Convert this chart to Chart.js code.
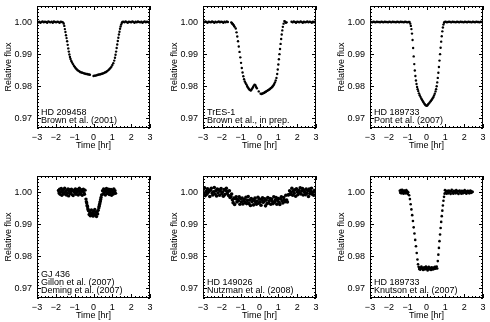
<!DOCTYPE html>
<html>
<head>
<meta charset="utf-8">
<script src="https://cdn.jsdelivr.net/npm/chart.js@4/dist/chart.umd.min.js"></script>
<style>
  body { margin: 0; background: #fff; width: 490px; height: 322px; position: relative; overflow: hidden; }
  canvas { position: absolute; }
</style>
</head>
<body>
<canvas id="p1" width="163" height="152" style="left:0;top:0"></canvas>
<canvas id="p2" width="163" height="152" style="left:166px;top:0"></canvas>
<canvas id="p3" width="163" height="152" style="left:333px;top:0"></canvas>
<canvas id="p4" width="163" height="152" style="left:0;top:170px"></canvas>
<canvas id="p5" width="163" height="152" style="left:166px;top:170px"></canvas>
<canvas id="p6" width="163" height="152" style="left:333px;top:170px"></canvas>
<script>
// light curves, [time (hr), relative flux]
const hd209458 = [
  [-3.00,1.0002],[-2.94,0.9999],[-2.88,1.0001],[-2.82,0.9998],[-2.76,1.0000],[-2.70,1.0002],[-2.64,0.9999],[-2.58,1.0001],
  [-2.52,1.0000],[-2.46,0.9998],[-2.40,1.0002],[-2.34,1.0000],[-2.28,0.9999],[-2.22,1.0001],[-2.16,0.9998],[-2.10,1.0002],
  [-2.04,1.0000],[-1.98,0.9999],[-1.92,1.0001],[-1.86,1.0000],[-1.80,0.9998],[-1.74,1.0001],[-1.68,1.0000],[-1.62,0.9999],
  [-1.58,0.9995],[-1.55,0.9988],[-1.52,0.9978],[-1.49,0.9969],[-1.46,0.9959],[-1.43,0.9950],[-1.40,0.9940],[-1.37,0.9929],
  [-1.34,0.9918],[-1.31,0.9908],[-1.28,0.9899],[-1.25,0.9891],[-1.22,0.9885],[-1.18,0.9879],[-1.14,0.9874],
  [-1.09,0.9869],[-1.04,0.9864],[-0.99,0.9860],[-0.94,0.9856],[-0.89,0.9853],[-0.84,0.9850],[-0.79,0.9848],[-0.74,0.9846],
  [-0.69,0.9844],[-0.64,0.9843],[-0.59,0.9842],[-0.54,0.9841],[-0.49,0.9840],[-0.44,0.9839],[-0.39,0.9838],[-0.34,0.9838],
  [-0.29,0.9837],[-0.24,0.9837],[-0.19,0.9836],
  [0.00,0.9832],[0.05,0.9833],[0.10,0.9833],[0.15,0.9834],[0.20,0.9835],[0.25,0.9836],[0.30,0.9837],[0.35,0.9837],
  [0.40,0.9838],[0.45,0.9839],[0.50,0.9840],[0.55,0.9841],[0.60,0.9843],[0.65,0.9844],[0.70,0.9846],[0.75,0.9848],
  [0.80,0.9851],[0.85,0.9854],[0.90,0.9857],[0.95,0.9861],[1.00,0.9866],[1.05,0.9872],[1.10,0.9880],
  [1.14,0.9889],[1.17,0.9898],[1.20,0.9908],[1.23,0.9919],[1.26,0.9930],[1.29,0.9941],[1.32,0.9951],[1.35,0.9961],
  [1.38,0.9970],[1.41,0.9979],[1.44,0.9986],[1.47,0.9992],[1.50,0.9997],[1.53,1.0000],
  [1.58,1.0001],[1.64,0.9999],[1.70,1.0002],[1.76,1.0000],[1.82,0.9998],[1.88,1.0001],[1.94,1.0000],[2.00,0.9999],
  [2.06,1.0002],[2.12,1.0000],[2.18,0.9998],[2.24,1.0001],[2.30,0.9999],[2.36,1.0002],[2.42,1.0000],[2.48,0.9999],
  [2.54,1.0001],[2.60,0.9998],[2.66,1.0000],[2.72,1.0002],[2.78,0.9999],[2.84,1.0001],[2.90,1.0000],[2.96,0.9998],[3.00,1.0001]
];
const tres1 = [
  [-3.00,1.0001],[-2.94,0.9999],[-2.88,1.0002],[-2.82,1.0000],[-2.76,0.9998],[-2.70,1.0001],[-2.64,1.0000],[-2.58,0.9999],
  [-2.52,1.0002],[-2.46,1.0000],[-2.40,0.9998],[-2.34,1.0001],[-2.28,0.9999],[-2.22,1.0000],[-2.16,1.0002],[-2.10,0.9999],
  [-2.04,1.0001],[-1.98,1.0000],[-1.92,0.9998],[-1.86,1.0001],[-1.80,0.9999],[-1.74,1.0002],[-1.68,1.0000],
  [-1.50,0.9999],[-1.47,0.9997],[-1.44,0.9995],[-1.41,0.9993],[-1.38,0.9991],[-1.35,0.9988],[-1.32,0.9985],
  [-1.26,0.9980],[-1.22,0.9968],[-1.18,0.9955],[-1.14,0.9940],[-1.10,0.9924],[-1.06,0.9907],[-1.02,0.9890],[-0.98,0.9873],
  [-0.94,0.9857],[-0.90,0.9843],[-0.86,0.9831],[-0.82,0.9822],
  [-0.78,0.9815],[-0.74,0.9810],[-0.70,0.9806],[-0.66,0.9801],[-0.62,0.9797],[-0.58,0.9793],[-0.54,0.9790],[-0.50,0.9788],
  [-0.46,0.9787],[-0.42,0.9790],[-0.38,0.9794],[-0.34,0.9798],[-0.30,0.9802],[-0.26,0.9805],[-0.22,0.9803],[-0.18,0.9798],
  [-0.14,0.9794],[-0.04,0.9784],
  [0.06,0.9777],[0.10,0.9776],[0.14,0.9777],[0.18,0.9778],[0.22,0.9779],[0.26,0.9780],[0.30,0.9782],[0.34,0.9783],
  [0.38,0.9785],[0.42,0.9786],[0.46,0.9788],[0.50,0.9789],[0.54,0.9791],[0.58,0.9793],[0.62,0.9795],[0.66,0.9797],
  [0.70,0.9800],[0.74,0.9803],[0.78,0.9807],[0.82,0.9812],[0.86,0.9818],[0.90,0.9826],
  [0.94,0.9838],[0.97,0.9852],[1.00,0.9868],[1.03,0.9884],[1.06,0.9900],[1.09,0.9916],[1.12,0.9932],[1.15,0.9947],
  [1.18,0.9961],[1.21,0.9974],[1.24,0.9985],[1.28,0.9995],[1.32,1.0003],[1.36,1.0001],[1.40,0.9998],[1.44,0.9999],
  [1.70,1.0001],[1.76,0.9999],[1.82,1.0002],[1.88,1.0000],[1.94,0.9998],[2.00,1.0001],[2.06,1.0000],[2.12,0.9999],
  [2.18,1.0002],[2.24,1.0000],[2.30,0.9998],[2.36,1.0001],[2.42,0.9999],[2.48,1.0000],[2.54,1.0002],[2.60,0.9999],
  [2.66,1.0001],[2.72,1.0000],[2.78,0.9998],[2.84,1.0001],[2.90,0.9999],[2.96,1.0002],[3.00,1.0000]
];
const hd189733Pont = [
  [-3.00,1.0001],[-2.94,1.0000],[-2.88,0.9999],[-2.82,1.0001],[-2.76,1.0000],[-2.70,0.9999],[-2.64,1.0001],[-2.58,1.0000],
  [-2.52,1.0000],[-2.46,0.9999],[-2.40,1.0001],[-2.34,1.0000],[-2.28,0.9999],[-2.22,1.0001],[-2.16,1.0000],[-2.10,1.0000],
  [-2.04,0.9999],[-1.98,1.0001],[-1.92,1.0000],[-1.86,0.9999],[-1.80,1.0001],[-1.74,1.0000],[-1.68,1.0000],[-1.62,0.9999],
  [-1.56,1.0001],[-1.50,1.0000],[-1.44,0.9999],[-1.38,1.0001],[-1.32,1.0000],[-1.26,1.0000],[-1.20,0.9999],[-1.14,1.0001],
  [-1.08,1.0000],[-1.02,0.9999],[-0.96,1.0000],[-0.90,1.0000],
  [-0.86,0.9995],[-0.83,0.9988],[-0.80,0.9978],[-0.77,0.9964],[-0.74,0.9944],[-0.71,0.9919],[-0.68,0.9893],[-0.65,0.9869],
  [-0.62,0.9849],[-0.59,0.9832],[-0.56,0.9818],[-0.53,0.9807],[-0.50,0.9798],[-0.47,0.9791],[-0.44,0.9785],[-0.40,0.9778],
  [-0.36,0.9772],[-0.32,0.9767],[-0.28,0.9762],[-0.24,0.9758],[-0.20,0.9754],[-0.16,0.9750],[-0.12,0.9746],[-0.08,0.9743],
  [-0.04,0.9741],[0.00,0.9739],[0.04,0.9740],[0.08,0.9743],[0.12,0.9746],[0.16,0.9749],[0.20,0.9752],[0.24,0.9755],
  [0.28,0.9758],[0.32,0.9762],[0.36,0.9766],[0.40,0.9771],[0.44,0.9777],[0.48,0.9784],[0.51,0.9791],[0.54,0.9800],
  [0.57,0.9812],[0.60,0.9826],[0.63,0.9842],[0.66,0.9860],[0.69,0.9880],[0.72,0.9900],[0.75,0.9920],[0.78,0.9939],
  [0.81,0.9956],[0.84,0.9971],[0.87,0.9983],[0.90,0.9992],[0.93,0.9998],
  [0.96,1.0000],[1.02,1.0001],[1.08,0.9999],[1.14,1.0000],[1.20,1.0001],[1.26,1.0000],[1.32,0.9999],[1.38,1.0001],
  [1.44,1.0000],[1.50,1.0000],[1.56,0.9999],[1.62,1.0001],[1.68,1.0000],[1.74,0.9999],[1.80,1.0001],[1.86,1.0000],
  [1.92,1.0000],[1.98,0.9999],[2.04,1.0001],[2.10,1.0000],[2.16,0.9999],[2.22,1.0001],[2.28,1.0000],[2.34,1.0000],
  [2.40,0.9999],[2.46,1.0001],[2.52,1.0000],[2.58,0.9999],[2.64,1.0001],[2.70,1.0000],[2.76,1.0000],[2.82,0.9999],
  [2.88,1.0001],[2.94,1.0000],[3.00,1.0000]
];
const gj436 = [
  [-1.86,1.0005],[-1.83,0.9997],[-1.80,1.0009],[-1.77,0.9993],[-1.74,1.0001],[-1.71,1.0011],[-1.68,0.9990],[-1.65,1.0004],
  [-1.62,0.9998],[-1.59,1.0008],[-1.56,0.9994],[-1.53,1.0012],[-1.50,0.9999],[-1.47,1.0003],[-1.44,0.9991],[-1.41,1.0006],
  [-1.38,0.9996],[-1.35,1.0010],[-1.32,0.9988],[-1.29,1.0002],[-1.26,1.0007],[-1.23,0.9995],[-1.20,1.0000],[-1.17,1.0009],
  [-1.14,0.9992],[-1.11,1.0004],[-1.08,0.9989],[-1.05,1.0006],[-1.02,1.0001],[-0.99,0.9997],[-0.96,1.0010],[-0.93,0.9993],
  [-0.90,1.0005],[-0.87,0.9999],[-0.84,1.0008],[-0.81,0.9991],[-0.78,1.0003],[-0.75,1.0012],[-0.72,0.9996],[-0.69,0.9994],
  [-0.66,1.0007],[-0.63,1.0002],[-0.60,0.9990],[-0.57,1.0005],[-0.54,1.0009],[-0.51,0.9998],[-0.48,0.9993],[-0.45,1.0006],
  [-0.40,0.9978],[-0.38,0.9970],[-0.36,0.9966],[-0.34,0.9958],[-0.32,0.9955],[-0.30,0.9948],[-0.28,0.9944],
  [-0.26,0.9942],[-0.23,0.9930],[-0.20,0.9938],[-0.17,0.9926],[-0.14,0.9934],[-0.11,0.9944],[-0.08,0.9928],[-0.05,0.9936],
  [-0.02,0.9925],[0.01,0.9940],[0.04,0.9931],[0.07,0.9946],[0.10,0.9929],[0.13,0.9937],[0.16,0.9924],[0.19,0.9939],
  [0.22,0.9932],[0.25,0.9943],
  [0.28,0.9950],[0.30,0.9956],[0.32,0.9961],[0.34,0.9966],[0.36,0.9971],[0.38,0.9977],[0.40,0.9983],[0.43,0.9991],
  [0.48,1.0004],[0.51,0.9994],[0.54,1.0010],[0.57,0.9998],[0.60,1.0006],[0.63,0.9991],[0.66,1.0002],[0.69,1.0011],
  [0.72,0.9995],[0.75,1.0007],[0.78,0.9999],[0.81,1.0009],[0.84,0.9992],[0.87,1.0003],[0.90,0.9997],[0.93,1.0008],
  [0.96,0.9990],[0.99,1.0005],[1.02,1.0001],[1.05,0.9994],[1.08,1.0010],[1.11,0.9998],[1.14,1.0004],[1.17,0.9996]
];
const hd149026 = [
  [-3.00,1.0008],[-2.96,0.9996],[-2.92,1.0013],[-2.88,0.9989],[-2.84,1.0002],[-2.80,0.9993],[-2.76,1.0010],[-2.72,0.9999],
  [-2.68,1.0005],[-2.64,0.9986],[-2.60,1.0006],[-2.56,1.0012],[-2.52,0.9997],[-2.48,0.9991],[-2.44,1.0001],[-2.40,1.0014],
  [-2.36,0.9994],[-2.32,1.0004],[-2.28,0.9988],[-2.24,1.0009],[-2.20,0.9998],[-2.16,1.0007],[-2.12,0.9990],[-2.08,1.0003],
  [-2.04,1.0011],[-2.00,0.9995],[-1.96,1.0000],[-1.92,0.9987],[-1.88,1.0008],[-1.84,0.9992],[-1.80,1.0005],[-1.76,1.0012],
  [-1.72,0.9996],[-1.68,1.0002],[-1.64,0.9989],[-1.60,1.0004],[-1.56,0.9983],[-1.52,0.9986],[-1.48,0.9994],[-1.44,0.9976],
  [-1.40,0.9967],[-1.36,0.9981],[-1.32,0.9961],[-1.28,0.9979],[-1.24,0.9985],[-1.20,0.9969],[-1.16,0.9977],[-1.12,0.9973],
  [-1.08,0.9985],[-1.04,0.9962],[-1.00,0.9980],[-0.96,0.9970],[-0.92,0.9981],[-0.88,0.9963],[-0.84,0.9972],[-0.80,0.9977],
  [-0.76,0.9967],[-0.72,0.9984],[-0.68,0.9964],[-0.64,0.9974],[-0.60,0.9986],[-0.56,0.9964],[-0.52,0.9975],[-0.48,0.9958],
  [-0.44,0.9980],[-0.40,0.9970],[-0.36,0.9977],[-0.32,0.9960],[-0.28,0.9974],[-0.24,0.9981],[-0.20,0.9967],[-0.16,0.9962],
  [-0.12,0.9972],[-0.08,0.9984],[-0.04,0.9965],[0.00,0.9978],[0.04,0.9969],[0.08,0.9959],[0.12,0.9976],[0.16,0.9982],
  [0.20,0.9968],[0.24,0.9971],[0.28,0.9979],[0.32,0.9957],[0.36,0.9975],[0.40,0.9964],[0.44,0.9983],[0.48,0.9966],
  [0.52,0.9973],[0.56,0.9980],[0.60,0.9962],[0.64,0.9978],[0.68,0.9971],[0.72,0.9964],[0.76,0.9985],[0.80,0.9968],
  [0.84,0.9975],[0.88,0.9983],[0.92,0.9962],[0.96,0.9974],[1.00,0.9980],[1.04,0.9968],[1.08,0.9961],[1.12,0.9979],
  [1.16,0.9985],[1.20,0.9973],[1.24,0.9966],[1.28,0.9983],[1.32,0.9975],[1.36,0.9970],[1.40,0.9990],[1.44,0.9975],
  [1.48,0.9969],[1.52,0.9991],[1.56,0.9992],[1.60,1.0004],[1.64,0.9993],[1.68,0.9999],[1.72,1.0012],[1.76,0.9990],
  [1.80,1.0004],[1.84,0.9996],[1.88,1.0007],[1.92,0.9987],[1.96,1.0010],[2.00,1.0001],[2.04,0.9992],[2.08,1.0005],
  [2.12,0.9998],[2.16,1.0013],[2.20,0.9994],[2.24,1.0003],[2.28,1.0011],[2.32,0.9991],[2.36,1.0006],[2.40,0.9999],
  [2.44,0.9992],[2.48,1.0009],[2.52,0.9996],[2.56,1.0004],[2.60,0.9986],[2.64,1.0009],[2.68,0.9995],[2.72,1.0002],
  [2.76,1.0012],[2.80,0.9993],[2.84,1.0000],[2.88,0.9990],[2.92,1.0005],[2.96,1.0003],[3.00,0.9997]
];
const hd189733Knutson = [
  [-1.42,1.0004],[-1.395,0.9998],[-1.37,1.0006],[-1.345,0.9996],[-1.32,1.0003],[-1.295,1.0007],[-1.27,0.9997],
  [-1.245,1.0002],[-1.22,0.9995],[-1.195,1.0005],[-1.17,0.9999],[-1.145,1.0004],[-1.12,0.9996],[-1.095,1.0001],
  [-1.07,1.0006],[-1.045,0.9997],[-1.02,1.0002],[-0.995,0.9994],[-0.97,0.9999],
  [-0.92,0.9990],[-0.88,0.9978],[-0.84,0.9962],[-0.80,0.9946],[-0.76,0.9928],[-0.72,0.9910],[-0.68,0.9890],
  [-0.64,0.9871],[-0.60,0.9851],[-0.56,0.9831],[-0.52,0.9810],[-0.48,0.9790],[-0.45,0.9775],
  [-0.42,0.9767],[-0.39,0.9760],[-0.36,0.9765],[-0.33,0.9758],[-0.30,0.9763],[-0.27,0.9768],[-0.24,0.9761],[-0.21,0.9764],
  [-0.18,0.9757],[-0.15,0.9762],[-0.12,0.9766],[-0.09,0.9759],[-0.06,0.9763],[-0.03,0.9768],[0.00,0.9760],[0.03,0.9765],
  [0.06,0.9756],[0.09,0.9762],[0.12,0.9767],[0.15,0.9759],[0.18,0.9764],[0.21,0.9761],[0.24,0.9757],[0.27,0.9766],
  [0.30,0.9762],[0.33,0.9759],[0.36,0.9765],[0.39,0.9760],[0.42,0.9763],[0.45,0.9767],[0.48,0.9761],[0.51,0.9764],
  [0.54,0.9768],[0.57,0.9762],
  [0.60,0.9785],[0.63,0.9805],[0.66,0.9826],[0.69,0.9847],[0.72,0.9868],[0.75,0.9888],[0.78,0.9907],[0.81,0.9925],
  [0.84,0.9942],[0.87,0.9958],[0.90,0.9973],[0.93,0.9985],[0.96,0.9995],
  [0.98,1.0006],[1.01,0.9998],[1.04,1.0003],[1.07,0.9995],[1.10,1.0004],[1.13,1.0000],[1.16,0.9996],[1.19,1.0005],
  [1.22,0.9999],[1.25,1.0002],[1.28,0.9994],[1.31,1.0003],[1.34,1.0007],[1.37,0.9997],[1.40,1.0001],[1.43,0.9995],
  [1.46,1.0004],[1.49,0.9999],[1.52,1.0002],[1.55,0.9996],[1.58,1.0006],[1.61,1.0000],[1.64,0.9997],[1.67,1.0003],
  [1.70,0.9994],[1.73,1.0002],[1.76,1.0005],[1.79,0.9998],[1.82,1.0001],[1.85,0.9995],[1.88,1.0004],[1.91,1.0000],
  [1.94,0.9996],[1.97,1.0003],[2.00,0.9999],[2.03,1.0006],[2.06,0.9997],[2.09,1.0002],[2.12,0.9995],[2.15,1.0001],
  [2.18,1.0004],[2.21,0.9998],[2.24,1.0003],[2.27,0.9996],[2.30,1.0000],[2.33,1.0005],[2.36,0.9997],[2.39,1.0002],
  [2.42,0.9999],[2.45,1.0001]
];

const xTicks = [-3, -2, -1, 0, 1, 2, 3];
const yTicks = [0.97, 0.98, 0.99, 1.00];

const panels = [
  { id: 'p1', data: hd209458, r: 1.2, lines: ['HD 209458', 'Brown et al. (2001)'] },
  { id: 'p2', data: tres1, r: 1.2, lines: ['TrES-1', 'Brown et al., in prep.'] },
  { id: 'p3', data: hd189733Pont, r: 1.2, lines: ['HD 189733', 'Pont et al. (2007)'] },
  { id: 'p4', data: gj436, r: 1.7, lines: ['GJ 436', 'Gillon et al. (2007)', 'Deming et al. (2007)'] },
  { id: 'p5', data: hd149026, r: 1.8, lines: ['HD 149026', 'Nutzman et al. (2008)'] },
  { id: 'p6', data: hd189733Knutson, r: 1.3, lines: ['HD 189733', 'Knutson et al. (2007)'] }
];

const FONT = '"Liberation Sans", Arial, Helvetica, sans-serif';
Chart.defaults.font.family = FONT;
Chart.defaults.font.size = 9;
Chart.defaults.color = '#000';

// box + inward major/minor ticks on all four sides, plus the label text
const framePlugin = {
  id: 'frame',
  afterDatasetsDraw(chart, args, opts) {
    const { ctx, chartArea: a, scales: { x, y } } = chart;
    ctx.save();
    ctx.strokeStyle = '#000';
    ctx.lineWidth = 1;
    ctx.strokeRect(a.left + 0.5, a.top + 0.5, a.width - 1, a.height - 1);
    ctx.beginPath();
    for (let i = -15; i <= 15; i++) {
      const px = Math.round(x.getPixelForValue(i / 5)) + 0.5;
      const len = i % 5 === 0 ? 4 : 2;
      ctx.moveTo(px, a.bottom); ctx.lineTo(px, a.bottom - len);
      ctx.moveTo(px, a.top); ctx.lineTo(px, a.top + len);
    }
    for (let i = 967; i <= 1005; i++) {
      const py = Math.round(y.getPixelForValue(i / 1000)) + 0.5;
      const len = i % 10 === 0 ? 4 : 2;
      ctx.moveTo(a.left, py); ctx.lineTo(a.left + len, py);
      ctx.moveTo(a.right, py); ctx.lineTo(a.right - len, py);
    }
    ctx.stroke();
    ctx.fillStyle = '#000';
    ctx.font = '9px ' + FONT;
    ctx.textBaseline = 'middle';
    const lines = opts.lines || [];
    lines.forEach((t, k) => {
      ctx.fillText(t, a.left + 4, a.bottom - 7 - (lines.length - 1 - k) * 8.4);
    });
    ctx.restore();
  }
};

panels.forEach(p => {
  new Chart(document.getElementById(p.id), {
    type: 'scatter',
    data: {
      datasets: [{
        data: p.data.map(([t, f]) => ({ x: t, y: f })),
        pointRadius: p.r,
        pointBorderWidth: 0,
        pointBackgroundColor: '#000',
        pointHoverRadius: p.r
      }]
    },
    options: {
      responsive: false,
      animation: false,
      events: [],
      layout: { padding: { left: 0, right: 13, top: 6, bottom: 0 } },
      plugins: {
        legend: { display: false },
        tooltip: { enabled: false },
        frame: { lines: p.lines }
      },
      scales: {
        x: {
          type: 'linear', min: -3, max: 3,
          afterBuildTicks: s => { s.ticks = xTicks.map(v => ({ value: v })); },
          afterFit: s => { s.height = 24; s.paddingLeft = 0; s.paddingRight = 0; },
          grid: { display: false, drawTicks: false, tickLength: 0 },
          border: { display: false },
          ticks: {
            padding: 4, maxRotation: 0, autoSkip: false,
            callback: v => v < 0 ? '\u2212' + Math.abs(v) : String(v)
          },
          title: { display: true, text: 'Time [hr]', padding: { top: 0, bottom: 1 } }
        },
        y: {
          type: 'linear', min: 0.967, max: 1.005,
          afterBuildTicks: s => { s.ticks = yTicks.map(v => ({ value: v })); },
          afterFit: s => { s.width = 37; s.paddingTop = 0; s.paddingBottom = 0; },
          grid: { display: false, drawTicks: false, tickLength: 0 },
          border: { display: false },
          ticks: { padding: 5, autoSkip: false, callback: v => v.toFixed(2) },
          title: { display: true, text: 'Relative flux', padding: { top: 3, bottom: 0 } }
        }
      }
    },
    plugins: [framePlugin]
  });
});
</script>
</body>
</html>
